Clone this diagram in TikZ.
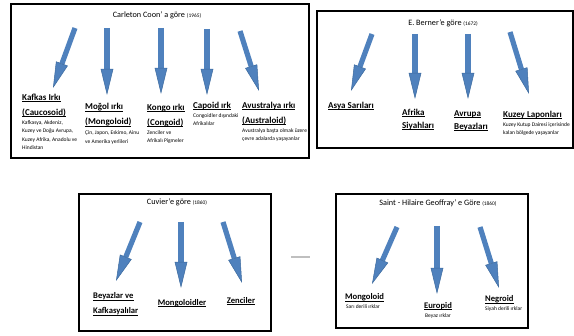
\documentclass[tikz,border=0pt]{standalone}
\usepackage{fontspec}
\setmainfont{Carlito}
\usetikzlibrary{arrows.meta, positioning}
\definecolor{arrowblue}{HTML}{4F81BD}
\definecolor{arrowline}{HTML}{3C6A9E}
\tikzstyle{panel} = [rectangle, draw=black, line width=1.6pt, anchor=north west, inner sep=0pt]
\tikzstyle{heading} = [inner sep=0pt, font=\fontsize{8.2}{10}\selectfont]
\tikzstyle{race} = [anchor=north west, inner sep=0pt, align=left, font=\fontsize{9}{15}\selectfont\bfseries]
\tikzstyle{racesm} = [race, font=\fontsize{8.6}{15}\selectfont\bfseries]
\tikzstyle{note} = [anchor=north west, inner sep=0pt, align=left, font=\fontsize{5.5}{8.4}\selectfont]
\tikzstyle{blockarrow} = [line width=5.2pt, draw=arrowblue, -{Triangle[length=26pt, width=12.5pt, line width=0.5pt, color=arrowline, fill=arrowblue]}]
\newcommand{\yr}[1]{{\fontsize{5.4}{6}\selectfont(#1)}}
\newcommand{\uln}[1]{\underline{\smash{#1}\vphantom{a}}}

\begin{document}
\begin{tikzpicture}[x=1pt, y=-1pt]
\useasboundingbox (0,0) rectangle (574,336);

% Carleton Coon
\node (coonbox) [panel, minimum width=298pt, minimum height=154pt] at (10,3) {};
\node (coontitle) [heading] at (157,15) {Carleton Coon' a göre \yr{1965}};

\coordinate (coon1s) at (75,28);  \coordinate (coon1e) at (53,88);
\coordinate (coon2s) at (107,28); \coordinate (coon2e) at (107,95);
\coordinate (coon3s) at (161,28); \coordinate (coon3e) at (161,94);
\coordinate (coon4s) at (207,29); \coordinate (coon4e) at (207,95);
\coordinate (coon5s) at (240,31); \coordinate (coon5e) at (259,91);

\node (kafkas) [race] at (22,95.5) {\uln{Kafkas Irkı}\\\uln{(Caucosoid)}};
\node (kafkasnote) [note, below right=3pt and 0pt of kafkas.south west] {Kafkasya, Akdeniz,\\Kuzey ve Doğu Avrupa,\\Kuzey Afrika, Anadolu ve\\Hindistan};

\node (mogol) [race] at (85,105) {\uln{Moğol ırkı}\\\uln{(Mongoloid)}};
\node (mogolnote) [note, below right=4pt and 0pt of mogol.south west] {Çin, Japon, Eskimo, Ainu\\ve Amerika yerlileri};

\node (kongo) [race] at (147,105.5) {\uln{Kongo ırkı}\\\uln{(Congoid)}};
\node (kongonote) [note, below right=3pt and 0pt of kongo.south west] {Zenciler ve\\Afrikalı Pigmeler};

\node (capoid) [race] at (193,103.5) {\uln{Capoid ırk}};
\node (capoidnote) [note, below right=3pt and 0pt of capoid.south west] {Congoidler dışındaki\\Afrikalılar};

\node (avus) [race] at (242,103.5) {\uln{Avustralya ırkı}\\\uln{(Australoid)}};
\node (avusnote) [note, below right=3pt and 0pt of avus.south west] {Avustralya başta olmak üzere\\çevre adalarda yaşayanlar};

\draw [blockarrow] (coon1s) -- (coon1e);
\draw [blockarrow] (coon2s) -- (coon2e);
\draw [blockarrow] (coon3s) -- (coon3e);
\draw [blockarrow] (coon4s) -- (coon4e);
\draw [blockarrow] (coon5s) -- (coon5e);

% E. Berner
\node (bernerbox) [panel, minimum width=256pt, minimum height=137pt] at (316,10) {};
\node (bernertitle) [heading] at (443,23) {E. Berner'e göre \yr{1672}};

\coordinate (berner1s) at (372,34); \coordinate (berner1e) at (351,91);
\coordinate (berner2s) at (415,34); \coordinate (berner2e) at (415,99);
\coordinate (berner3s) at (468,34); \coordinate (berner3e) at (468,99);
\coordinate (berner4s) at (510,32); \coordinate (berner4e) at (529,94);

\node (asya) [race] at (328,103.5) {\uln{Asya Sarıları}};
\node (afrika) [race, font=\fontsize{9}{13}\selectfont\bfseries] at (402,110.5) {\uln{Afrika}\\\uln{Siyahları}};
\node (avrupa) [race, font=\fontsize{9}{13}\selectfont\bfseries] at (454,111.5) {\uln{Avrupa}\\\uln{Beyazları}};
\node (kuzey) [race] at (503,112.5) {\uln{Kuzey Laponları}};
\node (kuzeynote) [note, below right=3pt and 0pt of kuzey.south west] {Kuzey Kutup Dairesi içerisinde\\kalan bölgede yaşayanlar};

\draw [blockarrow] (berner1s) -- (berner1e);
\draw [blockarrow] (berner2s) -- (berner2e);
\draw [blockarrow] (berner3s) -- (berner3e);
\draw [blockarrow] (berner4s) -- (berner4e);

% Cuvier
\node (cuvierbox) [panel, minimum width=192pt, minimum height=137pt] at (78,193) {};
\node (cuviertitle) [heading] at (177,202) {Cuvier'e göre \yr{1860}};

\coordinate (cuvier1s) at (140,222); \coordinate (cuvier1e) at (116,281);
\coordinate (cuvier2s) at (181,222); \coordinate (cuvier2e) at (181,288);
\coordinate (cuvier3s) at (223,222); \coordinate (cuvier3e) at (242,283);

\node (beyazlar) [racesm] at (93,294) {\uln{Beyazlar ve}\\\uln{Kafkasyalılar}};
\node (mongoloidler) [racesm, anchor=center] at (182,304) {\uln{Mongoloidler}};
\node (zenciler) [racesm, anchor=center] at (241,302) {\uln{Zenciler}};

\draw [blockarrow] (cuvier1s) -- (cuvier1e);
\draw [blockarrow] (cuvier2s) -- (cuvier2e);
\draw [blockarrow] (cuvier3s) -- (cuvier3e);

\coordinate (dashl) at (291,257);
\coordinate (dashr) at (310,257);
\draw [gray!50, line width=1.2pt] (dashl) -- (dashr);

% Saint-Hilaire Geoffray
\node (hilairebox) [panel, minimum width=192pt, minimum height=134pt] at (335,193) {};
\node (hilairetitle) [heading] at (438,203) {Saint - Hilaire Geoffray' e Göre \yr{1860}};

\coordinate (hilaire1s) at (397,227); \coordinate (hilaire1e) at (372,284);
\coordinate (hilaire2s) at (437,226); \coordinate (hilaire2e) at (437,294);
\coordinate (hilaire3s) at (480,227); \coordinate (hilaire3e) at (499,288);

\node (mongoloid) [racesm] at (345,295) {\uln{Mongoloid}};
\node (mongoloidnote) [note, below right=3pt and 1pt of mongoloid.south west] {Sarı derili ırklar};
\node (europid) [racesm, anchor=center] at (438,307) {\uln{Europid}};
\node (europidnote) [note, anchor=north, below=3pt of europid] {Beyaz ırklar};
\node (negroid) [racesm] at (485,297) {\uln{Negroid}};
\node (negroidnote) [note, below right=3pt and 0pt of negroid.south west] {Siyah derili ırklar};

\draw [blockarrow] (hilaire1s) -- (hilaire1e);
\draw [blockarrow] (hilaire2s) -- (hilaire2e);
\draw [blockarrow] (hilaire3s) -- (hilaire3e);
\end{tikzpicture}
\end{document}
